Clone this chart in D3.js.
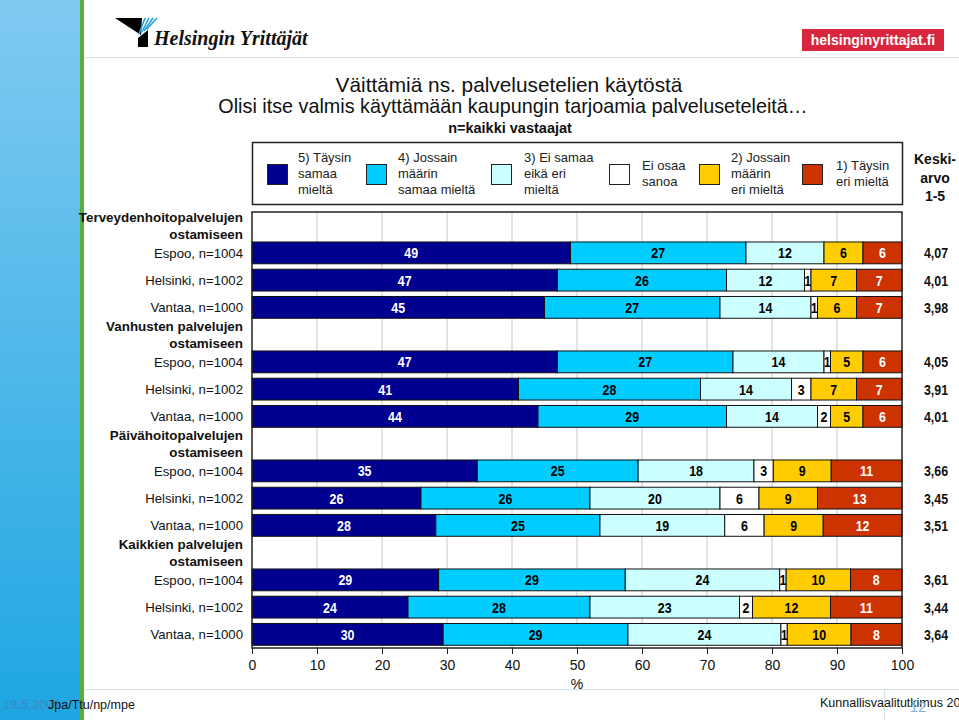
<!DOCTYPE html>
<html><head><meta charset="utf-8">
<script src="https://cdn.jsdelivr.net/npm/d3@7"></script>
<style>
html,body{margin:0;padding:0;background:#fff;}
svg{display:block;font-family:"Liberation Sans",Arial,Helvetica,sans-serif;}
</style>
</head><body>
<svg id="c" width="959" height="720"></svg>
<script>
// ---------- DATA ----------
const groups = [
  ["Terveydenhoitopalvelujen", "ostamiseen"],
  ["Vanhusten palvelujen", "ostamiseen"],
  ["Päivähoitopalvelujen", "ostamiseen"],
  ["Kaikkien palvelujen", "ostamiseen"]
];
const cities = ["Espoo, n=1004", "Helsinki, n=1002", "Vantaa, n=1000"];
const seriesKeys = ["s5", "s4", "s3", "eos", "s2", "s1"];
const seriesLabels = [
  ["5) Täysin", "samaa", "mieltä"],
  ["4) Jossain", "määrin", "samaa mieltä"],
  ["3) Ei samaa", "eikä eri", "mieltä"],
  ["Ei osaa", "sanoa"],
  ["2) Jossain", "määrin", "eri mieltä"],
  ["1) Täysin", "eri mieltä"]
];
const s5  = [49, 47, 45, 47, 41, 44, 35, 26, 28, 29, 24, 30];
const s4  = [27, 26, 27, 27, 28, 29, 25, 26, 25, 29, 28, 29];
const s3  = [12, 12, 14, 14, 14, 14, 18, 20, 19, 24, 23, 24];
const eos = [ 0,  1,  1,  1,  3,  2,  3,  6,  6,  1,  2,  1];
const s2  = [ 6,  7,  6,  5,  7,  5,  9,  9,  9, 10, 12, 10];
const s1  = [ 6,  7,  7,  6,  7,  6, 11, 13, 12,  8, 11,  8];
const means = [4.07, 4.01, 3.98, 4.05, 3.91, 4.01, 3.66, 3.45, 3.51, 3.61, 3.44, 3.64];
const xTicks = [0, 10, 20, 30, 40, 50, 60, 70, 80, 90, 100];

// ---------- STYLES ----------
const colors = ["#000090", "#00CCFF", "#CCFFFF", "#FFFFFF", "#FFCC00", "#CC3300"];
const labelColors = ["#fff", "#000", "#000", "#000", "#000", "#fff"];
const NARROW = 0.8;

const svg = d3.select("#c");
svg.append("rect").attr("width", 959).attr("height", 720).attr("fill", "#fff");

// ---------- decoration ----------
const defs = svg.append("defs");
const lg = defs.append("linearGradient").attr("id", "side").attr("x1", 0).attr("y1", 0).attr("x2", 0).attr("y2", 1);
lg.append("stop").attr("offset", "0%").attr("stop-color", "#80caf1");
lg.append("stop").attr("offset", "100%").attr("stop-color", "#1ea6e2");
svg.append("rect").attr("x", 0).attr("y", 0).attr("width", 80).attr("height", 720).attr("fill", "url(#side)");
svg.append("rect").attr("x", 80).attr("y", 0).attr("width", 4).attr("height", 720).attr("fill", "#5aae3c");
svg.append("line").attr("x1", 84).attr("x2", 959).attr("y1", 57.5).attr("y2", 57.5).attr("stroke", "#d6e4ea").attr("stroke-width", 1.2);
svg.append("line").attr("x1", 84).attr("x2", 959).attr("y1", 689.5).attr("y2", 689.5).attr("stroke", "#d6e4ea").attr("stroke-width", 1.2);
svg.append("line").attr("x1", 884.5).attr("x2", 884.5).attr("y1", 689).attr("y2", 720).attr("stroke", "#d6e4ea").attr("stroke-width", 1.2);

// logo
const logo = svg.append("g");
logo.append("path").attr("d", "M115,18 L142,18 L141,35 Z").attr("fill", "#000");
for (let k = 0; k < 4; k++) {
  logo.append("line").attr("x1", 145 + 4 * k).attr("y1", 18).attr("x2", 139 + 2.5 * k).attr("y2", 34 - k * 1.5)
    .attr("stroke", "#2a9fd8").attr("stroke-width", 1.6);
}
logo.append("path").attr("d", "M138,38 L148,30 L148,47 L138,47 Z").attr("fill", "#000");
logo.append("text").attr("x", 154).attr("y", 45).attr("font-family", "'Liberation Serif','DejaVu Serif',serif")
  .attr("font-style", "italic").attr("font-weight", "bold").attr("font-size", 20).attr("fill", "#111")
  .text("Helsingin Yrittäjät");

svg.append("rect").attr("x", 802).attr("y", 29).attr("width", 142).attr("height", 22).attr("fill", "#d7263d");
svg.append("text").attr("x", 873).attr("y", 45).attr("text-anchor", "middle").attr("fill", "#fff")
  .attr("font-weight", "bold").attr("font-size", 14).text("helsinginyrittajat.fi");

// titles
svg.append("text").attr("x", 509).attr("y", 92).attr("text-anchor", "middle").attr("font-size", 20.8).attr("fill", "#111")
  .text("Väittämiä ns. palvelusetelien käytöstä");
svg.append("text").attr("x", 513).attr("y", 113).attr("text-anchor", "middle").attr("font-size", 19.8).attr("fill", "#111")
  .text("Olisi itse valmis käyttämään kaupungin tarjoamia palveluseteleitä…");
svg.append("text").attr("x", 510).attr("y", 133).attr("text-anchor", "middle").attr("font-size", 14.5).attr("font-weight", "bold").attr("fill", "#111")
  .text("n=kaikki vastaajat");

// footer
svg.append("text").attr("x", 3).attr("y", 709).attr("font-size", 13).attr("fill", "#3f86be").text("19.5.2009");
svg.append("text").attr("x", 48).attr("y", 709).attr("font-size", 12.5).attr("fill", "#111").text("Jpa/Ttu/np/mpe");
svg.append("text").attr("x", 820).attr("y", 707).attr("font-size", 12.5).attr("fill", "#111").text("Kunnallisvaalitutkimus 2009");
svg.append("text").attr("x", 918).attr("y", 712).attr("text-anchor", "middle").attr("font-size", 15).attr("fill", "#7fb4dc").text("12");

// ---------- scales ----------
const pLeft = 252, pRight = 902, pTop = 212, pBottom = 648;
const slots = [];
groups.forEach((g, gi) => {
  slots.push("h" + gi);
  cities.forEach((c, ci) => slots.push("r" + (gi * 3 + ci)));
});
const y = d3.scaleBand().domain(slots).range([pTop, pBottom]).paddingInner(0.2).paddingOuter(0.1);
const xPct = d3.scaleLinear().domain([0, 100]).range([pLeft, pRight]);
const xFrac = d3.scaleLinear().domain([0, 1]).range([pLeft, pRight]);

// rows
const rows = s5.map((v, i) => ({
  key: "r" + i, s5: s5[i], s4: s4[i], s3: s3[i], eos: eos[i], s2: s2[i], s1: s1[i]
}));
const stacked = d3.stack().keys(seriesKeys).offset(d3.stackOffsetExpand)(rows);

// legend box
svg.append("rect").attr("x", pLeft + 0.5).attr("y", 142.5).attr("width", pRight - pLeft).attr("height", 62)
  .attr("fill", "#fff").attr("stroke", "#222").attr("stroke-width", 1.5);
const legSwatchX = [267, 366, 491, 609, 699, 802];
const legTextX = [298, 398, 524, 642, 731, 836];
seriesLabels.forEach((lines, i) => {
  svg.append("rect").attr("x", legSwatchX[i] + 0.5).attr("y", 164.5).attr("width", 20).attr("height", 20)
    .attr("fill", colors[i]).attr("stroke", "#222").attr("stroke-width", 1);
  const y0 = lines.length === 3 ? 162 : 170;
  const t = svg.append("text").attr("font-size", 13).attr("fill", "#222");
  lines.forEach((ln, li) => t.append("tspan").attr("x", legTextX[i]).attr("y", y0 + li * 16).text(ln));
});
const kt = svg.append("text").attr("text-anchor", "middle").attr("font-weight", "bold").attr("font-size", 14).attr("fill", "#111");
["Keski-", "arvo", "1-5"].forEach((ln, li) => kt.append("tspan").attr("x", 935).attr("y", 164 + li * 18.5).text(ln));

// plot background and grid
svg.append("rect").attr("x", pLeft).attr("y", pTop).attr("width", pRight - pLeft).attr("height", pBottom - pTop)
  .attr("fill", "#fff");
svg.append("g").selectAll("line").data(xTicks.slice(1, -1)).join("line")
  .attr("x1", d => xPct(d)).attr("x2", d => xPct(d)).attr("y1", pTop).attr("y2", pBottom)
  .attr("stroke", "#c8c8c8").attr("stroke-width", 1);

// bars
const layers = svg.append("g").selectAll("g").data(stacked).join("g")
  .attr("fill", (d, i) => colors[i]);
layers.selectAll("rect").data(d => d.filter(p => p[1] - p[0] > 0)).join("rect")
  .attr("x", d => xFrac(d[0])).attr("width", d => xFrac(d[1]) - xFrac(d[0]))
  .attr("y", d => y(d.data.key)).attr("height", y.bandwidth())
  .attr("stroke", "#111").attr("stroke-width", 1);

// bar labels (condensed bold)
stacked.forEach((layer, si) => {
  svg.append("g").selectAll("text").data(layer.filter(p => p.data[layer.key] > 0)).join("text")
    .attr("transform", d => `translate(${(xFrac(d[0]) + xFrac(d[1])) / 2},${y(d.data.key) + y.bandwidth() / 2 + 5.5}) scale(${NARROW},1)`)
    .attr("text-anchor", "middle").attr("font-weight", "bold").attr("font-size", 15.5)
    .attr("fill", labelColors[si])
    .text(d => d.data[layer.key]);
});

// frame
svg.append("rect").attr("x", pLeft).attr("y", pTop).attr("width", pRight - pLeft).attr("height", pBottom - pTop)
  .attr("fill", "none").attr("stroke", "#222").attr("stroke-width", 1.5);

// axis
const axis = svg.append("g").attr("transform", `translate(0,${pBottom})`)
  .call(d3.axisBottom(xPct).tickValues(xTicks).tickSize(6).tickSizeOuter(0).tickPadding(6).tickFormat(d3.format("d")));
axis.select(".domain").remove();
axis.selectAll("line").attr("stroke", "#222");
axis.selectAll("text").attr("font-size", 14).attr("fill", "#111").attr("font-family", "'Liberation Sans',Arial,sans-serif");
svg.append("text").attr("x", xPct(50)).attr("y", 689).attr("text-anchor", "middle").attr("font-size", 14).attr("fill", "#111").text("%");

// row labels
svg.append("g").selectAll("text").data(rows).join("text")
  .attr("x", 243).attr("y", d => y(d.key) + y.bandwidth() / 2 + 5)
  .attr("text-anchor", "end").attr("font-size", 13.2).attr("fill", "#111")
  .text((d, i) => cities[i % 3]);
groups.forEach((g, gi) => {
  const cy = y("h" + gi) + y.bandwidth() / 2;
  const t = svg.append("text").attr("text-anchor", "end").attr("font-size", 13.4).attr("font-weight", "bold").attr("fill", "#111");
  g.forEach((ln, li) => t.append("tspan").attr("x", 243).attr("y", cy - 3.5 + li * 17).text(ln));
});

// means (condensed bold)
svg.append("g").selectAll("text").data(means).join("text")
  .attr("transform", (d, i) => `translate(936,${y("r" + i) + y.bandwidth() / 2 + 5.5}) scale(${NARROW},1)`)
  .attr("text-anchor", "middle").attr("font-weight", "bold").attr("font-size", 15.5).attr("fill", "#111")
  .text(d => d3.format(".2f")(d).replace(".", ","));
</script>
</body></html>
